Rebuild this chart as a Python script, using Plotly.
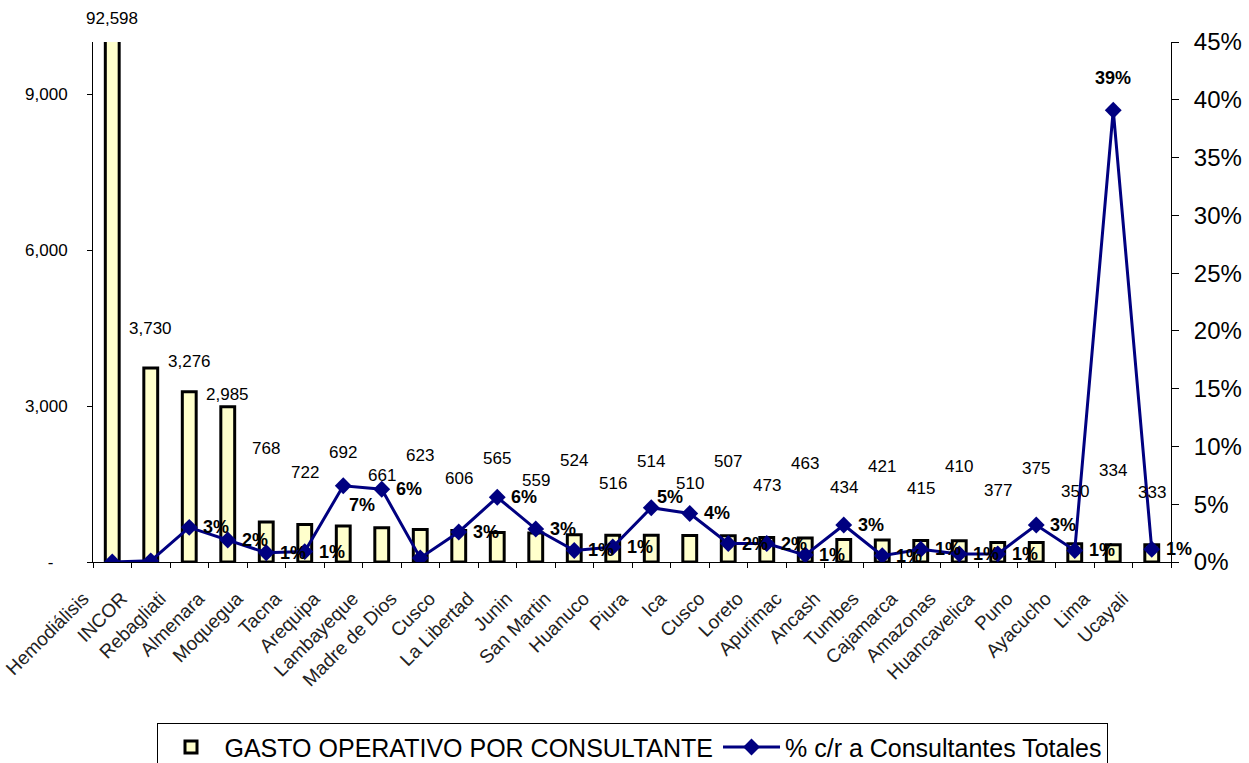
import plotly.graph_objects as go

# ---------------- data ----------------
categories = ["Hemodiálisis", "INCOR", "Rebagliati", "Almenara", "Moquegua", "Tacna",
              "Arequipa", "Lambayeque", "Madre de Dios", "Cusco", "La Libertad", "Junin",
              "San Martin", "Huanuco", "Piura", "Ica", "Cusco", "Loreto", "Apurimac",
              "Ancash", "Tumbes", "Cajamarca", "Amazonas", "Huancavelica", "Puno",
              "Ayacucho", "Lima", "Ucayali"]
gasto = [92598, 3730, 3276, 2985, 768, 722, 692, 661, 623, 606, 565, 559, 524, 516,
         514, 510, 507, 473, 463, 434, 421, 415, 410, 377, 375, 350, 334, 333]
pct = [0.0, 0.1, 3.0, 1.9, 0.8, 0.9, 6.6, 6.3, 0.35, 2.6, 5.6, 2.85, 1.0, 1.3,
       4.7, 4.2, 1.6, 1.6, 0.6, 3.2, 0.55, 1.1, 0.7, 0.7, 3.2, 1.0, 39.1, 1.1]
left_ticks = [0, 3000, 6000, 9000]
left_ticktext = ["-\u00a0\u00a0\u00a0", "3,000", "6,000", "9,000"]
series_names = ["GASTO OPERATIVO POR CONSULTANTE", "% c/r a Consultantes Totales"]

# ---------------- styles ----------------
FONT = "Liberation Sans, Arial, sans-serif"
Y1_MAX = 10000
Y2_MAX = 45
# pixel rise of each value label above its bar (labels were staggered in the original)
LABEL_RISE = [24, 40, 30, 12] + [74 if i % 2 == 0 else 52 for i in range(4, len(gasto))]
PCT_OFFSETS_DEFAULT = (27, 0)
PCT_OFFSETS = {6: (19, -19), 14: (19, 11), 26: (0, 32)}

idx = list(range(len(categories)))

fig = go.Figure()
fig.add_trace(go.Bar(
    x=idx, y=gasto, name=series_names[0], width=0.36,
    marker=dict(color="#FFFFCC", line=dict(color="black", width=3)),
    yaxis="y",
))
fig.add_trace(go.Scatter(
    x=idx, y=pct, name=series_names[1], mode="lines+markers", yaxis="y2",
    line=dict(color="#000080", width=3),
    marker=dict(symbol="diamond", size=13, color="#000080"),
))

annotations = []
for i, v in enumerate(gasto):
    annotations.append(dict(
        x=i, y=min(v, Y1_MAX), xref="x", yref="y", text=f"{v:,}",
        showarrow=False, yanchor="middle", yshift=LABEL_RISE[i],
        font=dict(family=FONT, size=17, color="black"),
    ))
for i, p in enumerate(pct):
    if p < 0.5:
        continue
    dx, dy = PCT_OFFSETS.get(i, PCT_OFFSETS_DEFAULT)
    annotations.append(dict(
        x=i, y=p, xref="x", yref="y2", text=f"<b>{p:.0f}%</b>",
        showarrow=False, xshift=dx, yshift=dy, yanchor="middle",
        font=dict(family=FONT, size=18, color="black"),
    ))

fig.update_layout(
    width=1249, height=763,
    margin=dict(l=93, r=78, t=42, b=201, autoexpand=False),
    paper_bgcolor="white", plot_bgcolor="white",
    font=dict(family=FONT, color="black"),
    bargap=0.6,
    showlegend=True,
    legend=dict(
        orientation="h", x=0.5, xanchor="center", y=-0.31, yanchor="top",
        bordercolor="black", borderwidth=1, font=dict(size=25, family=FONT),
        itemwidth=57, tracegroupgap=0,
    ),
    xaxis=dict(
        range=[-0.5, len(categories) - 0.5], automargin=False,
        tickmode="array", tickvals=idx, ticktext=categories,
        tickangle=-45, ticks="", ticklabelshift=-29, ticklabelstandoff=17,
        tickfont=dict(size=19, family=FONT, color="#222"),
        showline=True, linecolor="black", linewidth=1, showgrid=False, zeroline=False,
        minor=dict(tick0=-0.5, dtick=1, ticks="outside", ticklen=5, tickcolor="black"),
    ),
    yaxis=dict(
        range=[0, Y1_MAX], automargin=False,
        tickmode="array", tickvals=left_ticks, ticktext=left_ticktext,
        ticks="outside", ticklen=5, tickcolor="black", ticklabelstandoff=16,
        tickfont=dict(size=17, family=FONT),
        showline=True, linecolor="black", linewidth=1, showgrid=False, zeroline=False,
    ),
    yaxis2=dict(
        range=[0, Y2_MAX], automargin=False,
        overlaying="y", side="right", dtick=5, ticksuffix="%",
        ticks="outside", ticklen=7, tickcolor="black", ticklabelstandoff=10,
        tickfont=dict(size=24, family=FONT),
        showline=True, linecolor="black", linewidth=1, showgrid=False, zeroline=False,
    ),
    annotations=annotations,
)

fig.write_html("out.html")
